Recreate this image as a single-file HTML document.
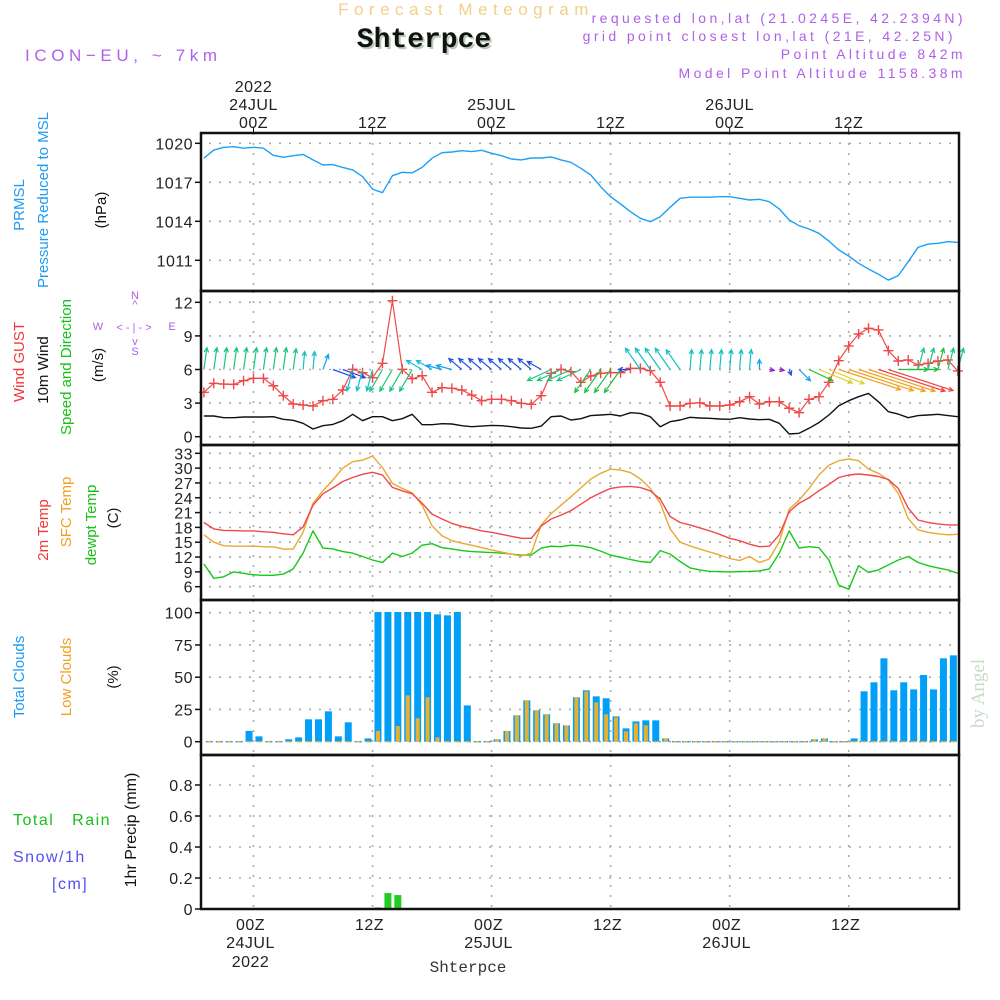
<!DOCTYPE html>
<html><head><meta charset="utf-8">
<style>
html,body{margin:0;padding:0;background:#fff;}
svg{display:block;font-family:"Liberation Sans",sans-serif;}
.t{font-size:16px;fill:#222;letter-spacing:0.5px;}
</style></head>
<body>
<svg id="chart" width="1000" height="1000" viewBox="0 0 1000 1000">
<text x="466" y="15" text-anchor="middle" font-size="17" fill="#f3cf88" letter-spacing="5.5">Forecast Meteogram</text>
<text x="426" y="49" text-anchor="middle" font-family="Liberation Mono,monospace" font-weight="bold" font-size="28" fill="#b8cdb8">Shterpce</text>
<text x="424" y="47" text-anchor="middle" font-family="Liberation Mono,monospace" font-weight="bold" font-size="28" fill="#111">Shterpce</text>
<text x="25" y="61" font-size="17" fill="#b060e8" letter-spacing="4.6">ICON−EU, ~ 7km</text>
<g font-size="14" fill="#b060e8" letter-spacing="3.4" text-anchor="end">
<text x="966" y="23">requested lon,lat (21.0245E, 42.2394N)</text>
<text x="956" y="41">grid point closest lon,lat (21E, 42.25N)</text>
<text x="966" y="59">Point Altitude 842m</text>
<text x="966" y="78">Model Point Altitude 1158.38m</text>
</g>
<text transform="translate(984,728) rotate(-90)" font-family="Liberation Serif,serif" font-size="19" fill="#c8dcc8">by Angel</text>
<g id="grid"></g>
<g id="marks"></g>
<g id="frames"></g>
<g id="labels"></g>
<g font-size="15">
<text transform="translate(24,205) rotate(-90)" text-anchor="middle" fill="#1e9bf0">PRMSL</text>
<text transform="translate(48,200) rotate(-90)" text-anchor="middle" fill="#1e9bf0">Pressure Reduced to MSL</text>
<text transform="translate(106,210) rotate(-90)" text-anchor="middle" fill="#111">(hPa)</text>
</g>
<g font-size="15">
<text transform="translate(24,362) rotate(-90)" text-anchor="middle" fill="#f03838">Wind GUST</text>
<text transform="translate(48,370) rotate(-90)" text-anchor="middle" fill="#111">10m Wind</text>
<text transform="translate(71,367) rotate(-90)" text-anchor="middle" fill="#18c018">Speed and Direction</text>
<text transform="translate(103,365) rotate(-90)" text-anchor="middle" fill="#111">(m/s)</text>
<g font-size="11" fill="#b060e8" text-anchor="middle">
<text x="135" y="299">N</text><text x="135" y="308">^</text><text x="98" y="330">W</text>
<text x="134" y="331">&lt; - | - &gt;</text><text x="172" y="330">E</text>
<text x="135" y="345">v</text><text x="135" y="355">S</text>
</g>
</g>
<g font-size="15">
<text transform="translate(48,530) rotate(-90)" text-anchor="middle" fill="#f03838">2m Temp</text>
<text transform="translate(71,512) rotate(-90)" text-anchor="middle" fill="#f0a020">SFC Temp</text>
<text transform="translate(96,525) rotate(-90)" text-anchor="middle" fill="#18c018">dewpt Temp</text>
<text transform="translate(118,518) rotate(-90)" text-anchor="middle" fill="#111">(C)</text>
</g>
<g font-size="15">
<text transform="translate(24,677) rotate(-90)" text-anchor="middle" fill="#1e9bf0">Total Clouds</text>
<text transform="translate(71,677) rotate(-90)" text-anchor="middle" fill="#f0a020">Low Clouds</text>
<text transform="translate(118,677) rotate(-90)" text-anchor="middle" fill="#111">(%)</text>
</g>
<g font-size="16" letter-spacing="1.5">
<text transform="translate(136,830) rotate(-90)" text-anchor="middle" fill="#111" letter-spacing="0">1hr Precip (mm)</text>
<text x="13" y="825" fill="#18c018" xml:space="preserve">Total   Rain</text>
<text x="13" y="862" fill="#5050f0">Snow/1h</text>
<text x="52" y="889" fill="#5050f0">[cm]</text>
</g>
<text x="468" y="972" text-anchor="middle" font-family="Liberation Mono,monospace" font-size="16" fill="#333">Shterpce</text>
</svg>
<script>
// ---- data (hourly, first value at hour -5 relative to 24JUL 00Z) ----
const startHour = -5;
const pressure = [1018.85,1019.48,1019.69,1019.74,1019.62,1019.69,1019.62,1019.08,1018.92,1019.05,1019.15,1018.72,1018.33,1018.36,1018.15,1017.95,1017.43,1016.48,1016.2,1017.51,1017.77,1017.72,1018.15,1018.85,1019.28,1019.33,1019.43,1019.36,1019.46,1019.23,1019.05,1018.79,1018.72,1018.87,1018.87,1018.95,1018.72,1018.54,1018.08,1017.56,1016.66,1015.89,1015.33,1014.74,1014.23,1013.97,1014.35,1015.08,1015.77,1015.85,1015.85,1015.85,1015.89,1015.89,1015.77,1015.64,1015.69,1015.51,1014.95,1014.1,1013.66,1013.41,1013.08,1012.48,1011.79,1011.33,1010.77,1010.33,1009.92,1009.48,1009.82,1010.89,1012.0,1012.25,1012.31,1012.43,1012.38];
const windGust = [3.96,4.77,4.7,4.67,5.0,5.21,5.21,4.55,3.66,2.92,2.83,2.74,3.21,3.34,4.17,6.02,5.71,5.27,6.55,12.14,6.02,5.18,5.45,3.96,4.38,4.32,4.17,3.72,3.21,3.34,3.34,3.21,2.98,2.89,3.66,5.66,6.02,5.8,4.86,5.42,5.66,5.72,5.72,6.1,6.1,5.89,4.86,2.74,2.74,2.98,3.03,2.74,2.74,2.83,3.12,3.57,2.92,3.12,3.12,2.54,2.15,3.34,3.57,4.86,6.79,8.1,9.17,9.68,9.53,7.68,6.76,6.85,6.4,6.55,6.76,6.85,5.87];
const windSpeed = [1.85,1.85,1.7,1.7,1.76,1.76,1.76,1.79,1.55,1.46,1.2,0.69,0.98,1.1,1.43,2.0,1.43,1.79,1.79,1.43,1.61,2.0,1.07,1.07,1.16,1.13,0.98,0.89,0.95,1.01,0.98,0.89,0.78,0.75,0.95,1.79,1.85,1.49,1.61,1.88,1.94,2.0,1.85,2.14,2.08,1.79,0.89,1.34,1.49,1.73,1.67,1.64,1.58,1.55,1.7,1.58,1.52,1.55,1.2,0.24,0.3,0.75,1.26,1.94,2.77,3.21,3.57,3.87,3.12,2.23,2.02,1.7,1.88,1.94,2.0,1.88,1.79];
const windArrowDir = [8,8,8,8,8,8,8,8,8,8,5,5,20,110,110,195,195,195,210,210,210,210,300,300,285,285,310,310,310,310,310,310,310,310,300,245,245,245,245,215,215,215,215,270,325,325,325,325,325,5,5,5,5,5,5,5,0,100,100,160,135,115,112,112,108,108,108,108,108,108,90,90,15,15,15,15,15];
const windArrowMag = [2.2,2.2,2.2,2.2,2.2,2.2,2.2,2.2,2.2,2.1,1.8,1.8,1.6,2.4,2.4,2.2,2.2,2.2,2.5,2.5,2.5,2.5,1.8,1.8,1.6,1.6,1.7,1.7,1.7,1.7,1.7,1.7,1.7,1.7,1.6,2.6,2.6,2.6,2.6,2.8,2.8,2.8,2.8,1.2,2.6,2.6,2.6,2.6,2.4,2.0,2.0,2.0,2.0,2.0,2.0,2.0,1.0,0.5,0.5,0.6,1.6,2.6,3.6,3.8,6.5,6.8,7.0,7.0,7.0,6.8,3.0,3.0,2.2,2.2,2.2,2.2,2.2];
const windArrowColor = ["#1bc47d","#1bc47d","#1bc47d","#1bc47d","#1bc47d","#1bc47d","#1bc47d","#1bc47d","#1bc47d","#1bc47d","#12c0c4","#12c0c4","#12a0f0","#2050e0","#2050e0","#12c0c4","#12c0c4","#12c0c4","#1bc47d","#1bc47d","#1bc47d","#1bc47d","#12c0d0","#12c0d0","#12a0f0","#12a0f0","#2050e0","#2050e0","#2050e0","#2050e0","#2050e0","#2050e0","#2050e0","#2050e0","#2050e0","#1bc47d","#1bc47d","#1bc47d","#1bc47d","#22c040","#22c040","#22c040","#22c040","#2050e0","#12c0c4","#12c0c4","#12c0c4","#12c0c4","#12c0c4","#12c0c4","#12c0c4","#12c0c4","#12c0c4","#12c0c4","#12c0c4","#12c0c4","#12a0f0","#9020d0","#9020d0","#2050e0","#12a0f0","#22c020","#e0d030","#e0d030","#f0a020","#f0a020","#f0a020","#f0a020","#f04040","#f04040","#22c040","#22c040","#1bc47d","#1bc47d","#22c040","#1bc47d","#1bc47d"];
const temp2m = [19.0,17.7,17.4,17.35,17.3,17.3,17.1,17.0,16.7,16.5,18.1,22.5,24.8,26.0,27.3,28.1,28.75,29.15,28.6,26.1,25.4,24.8,22.9,20.7,19.7,18.8,18.2,17.8,17.3,17.0,16.6,16.2,15.8,15.8,18.3,19.7,20.5,21.4,22.7,24.0,25.0,25.9,26.2,26.3,26.05,25.4,23.7,20.2,19.0,18.5,17.9,17.3,16.6,15.8,15.3,14.6,14.1,14.2,16.5,21.2,22.9,24.0,25.4,26.7,28.1,28.6,28.8,28.6,28.3,27.7,25.9,21.9,19.5,19.0,18.7,18.5,18.5];
const tempSfc = [16.5,15.0,14.3,14.2,14.2,14.2,14.1,14.05,13.6,13.6,17.0,22.9,25.4,27.6,30.0,31.3,31.6,32.45,30.1,26.9,25.9,25.0,22.5,18.3,16.3,15.3,14.8,14.4,13.9,13.4,13.0,12.6,12.2,12.8,18.5,20.8,22.5,24.2,26.0,27.8,28.95,29.8,29.6,29.1,27.8,25.9,22.9,17.7,15.0,14.25,13.6,13.0,12.4,11.7,11.3,12.1,10.9,11.6,15.1,21.7,23.5,25.9,28.6,30.6,31.5,31.85,31.5,29.8,28.95,27.6,24.9,19.8,17.5,17.0,16.7,16.5,16.6];
const dewpoint = [10.6,7.7,8.0,9.0,8.7,8.4,8.3,8.3,8.55,9.6,12.8,17.3,13.8,13.65,13.1,12.8,12.1,11.4,10.9,12.8,12.1,12.8,14.4,14.7,13.9,13.65,13.3,13.1,13.0,12.9,12.8,12.6,12.4,12.4,13.8,14.2,14.1,14.4,14.25,13.9,13.2,12.4,11.95,11.5,11.1,10.9,13.3,12.6,11.1,9.8,9.4,9.1,9.05,9.0,9.05,9.1,9.2,9.6,12.8,17.3,13.8,14.1,13.9,11.4,6.3,5.5,10.25,8.9,9.4,10.4,11.4,12.1,10.9,10.25,9.8,9.4,8.7];
const totalClouds = [0,0,0,0,7.8,3.6,0,0,1.3,2.8,16.8,16.8,23,3.6,14.5,0,2,100,100,100,100,100,100,98.2,97.4,100,27.6,0,0,1.3,7.8,19.9,31.5,23.8,20.7,13.7,12.1,33.9,39.3,34.6,33.1,19.1,9.8,15.2,16,16,2,0,0,0,0,0,0,0,0,0,0,0,0,0,0,1.3,2,0,0,2,38.5,45.5,64.1,39.3,45.5,40,51.2,40,64.1,66.4];
const lowClouds = [0,0,0,0,0,0,0,0,0,0,0,0,0,0,0,0,0,7.8,0,11.6,35.4,17.6,33.9,2.8,0,0,0,0,0,1.3,7.8,19.9,31.5,23.8,20.7,13.7,12.1,33.9,38.5,30,20.7,18.3,7.5,13.7,12.1,0,2,0,0,0,0,0,0,0,0,0,0,0,0,0,0,1.3,2,0,0,0,0,0,0,0,0,0,0,0,0,0];
const precip = [0,0,0,0,0,0,0,0,0,0,0,0,0,0,0,0,0,0.01,0.103,0.09,0,0,0,0,0,0,0,0,0,0,0,0,0,0,0,0,0,0,0,0,0,0,0,0,0,0,0,0,0,0,0,0,0,0,0,0,0,0,0,0,0,0,0,0,0,0,0,0,0,0,0,0,0,0,0,0];
const pressureTicks = [1020,1017,1014,1011];
const windTicks = [0,3,6,9,12];
const tempTicks = [6,9,12,15,18,21,24,27,30,33];
const cloudTicks = [0,25,50,75,100];
const precipTicks = [0,0.2,0.4,0.6,0.8];
const timeTickHours = [0,12,24,36,48,60];
const timeTickLabels = ["00Z","12Z","00Z","12Z","00Z","12Z"];
const dateLabels = ["24JUL","","25JUL","","26JUL",""];

// ---- axis functions ----
const L=201, R=959;
const xs = h => 253.5 + 9.92*h;
const yP = p => 143.3 + (1020-p)*13;
const yW = v => 436.7 - 11.2*v;
const yT = t => 453.3 + (33-t)*4.94;
const yC = c => 741.7 - 1.29*c;
const yR = r => 909 - 155*r;
const panels = [{t:133,b:291,name:'pressure'},{t:291,b:445,name:'wind'},{t:445,b:600,name:'temperature'},{t:600,b:755,name:'clouds'},{t:755,b:909,name:'precip'}];
const NS='http://www.w3.org/2000/svg';
function mk(tag, attrs, parent){const e=document.createElementNS(NS,tag);for(const k in attrs)e.setAttribute(k,attrs[k]);parent.appendChild(e);return e;}
const grid=document.getElementById('grid'), marks=document.getElementById('marks'), frames=document.getElementById('frames'), labels=document.getElementById('labels');

panels.forEach(p=>{
  timeTickHours.forEach(h=>{
    const g=mk('line',{x1:xs(h),x2:xs(h),y1:p.t,y2:p.b,stroke:'#aaa','stroke-width':1.6,'stroke-dasharray':'2 8'},grid);
    
    
  });
});
function hgrid(ticks, yf, fmt, name){
  ticks.forEach(v=>{
    const y=yf(v);
    const g=mk('line',{x1:L+8,x2:R,y1:y,y2:y,stroke:'#aaa','stroke-width':1.6,'stroke-dasharray':'2 8'},grid);
    
    
    const tk=mk('line',{x1:L-6,x2:L,y1:y,y2:y,stroke:'#111','stroke-width':1.5},frames);
    
    
    const t=mk('text',{x:L-8,y:y+6,'text-anchor':'end',class:'t'},labels);
    t.textContent=fmt(v);
    
    
  });
}
hgrid(pressureTicks,yP,v=>v,'pressure');
hgrid(windTicks,yW,v=>v,'wind');
hgrid(tempTicks,yT,v=>v,'temp');
hgrid(cloudTicks,yC,v=>v,'cloud');
hgrid(precipTicks,yR,v=>v===0?'0':v.toFixed(1),'precip');

panels.forEach(p=>{
  const r=mk('rect',{x:L,y:p.t,width:R-L,height:p.b-p.t,fill:'none',stroke:'#111','stroke-width':2.5},frames);
  
  
});

timeTickHours.forEach((h,i)=>{
  const x=xs(h);
  const tk=mk('line',{x1:x,x2:x,y1:128,y2:133,stroke:'#111','stroke-width':1},frames);
  
  
  const t=mk('text',{x:x,y:128,'text-anchor':'middle',class:'t'},labels);
  t.textContent=timeTickLabels[i];
  
  
  const b=mk('text',{x:x-3,y:930,'text-anchor':'middle',class:'t'},labels);
  b.textContent=timeTickLabels[i];
  
  
  if(dateLabels[i]){
    const d=mk('text',{x:x,y:110,'text-anchor':'middle',class:'t'},labels);
    d.textContent=dateLabels[i];
    
    
    const d2=mk('text',{x:x-3,y:948,'text-anchor':'middle',class:'t'},labels);
    d2.textContent=dateLabels[i];
    
    
  }
});
const y1=mk('text',{x:xs(0),y:92,'text-anchor':'middle',class:'t'},labels);
y1.textContent='2022';


const y2=mk('text',{x:xs(0)-3,y:967,'text-anchor':'middle',class:'t'},labels);
y2.textContent='2022';



function line(arr, yf, color, name, w){
  const pts=arr.map((v,i)=>xs(startHour+i).toFixed(1)+','+yf(v).toFixed(1)).join(' ');
  const pl=mk('polyline',{points:pts,fill:'none',stroke:color,'stroke-width':w||1.4,'stroke-linejoin':'round'},marks);
  
  
}
line(pressure,yP,'#1ea0f5','pressure-line');
line(windSpeed,yW,'#111','wind-speed-line');
line(windGust,yW,'#f04848','wind-gust-line',1.2);
windGust.forEach((v,i)=>{
  const x=xs(startHour+i), y=yW(v);
  const p=mk('path',{d:`M${x-5},${y}H${x+5}M${x},${y-5}V${y+5}`,stroke:'#f04848','stroke-width':1.4},marks);
  
  
});
windArrowDir.forEach((d,i)=>{
  const x=xs(startHour+i), y=yW(6);
  const len=windArrowMag[i]*10, a=d*Math.PI/180;
  const ex=x+len*Math.sin(a), ey=y-len*Math.cos(a);
  const hl=5;
  const a1=a+Math.PI-0.45, a2=a+Math.PI+0.45;
  const p=mk('path',{d:`M${x},${y}L${ex},${ey}M${ex+hl*Math.sin(a1)},${ey-hl*Math.cos(a1)}L${ex},${ey}L${ex+hl*Math.sin(a2)},${ey-hl*Math.cos(a2)}`,stroke:windArrowColor[i],'stroke-width':1.2,fill:'none'},marks);
  
  
});
line(dewpoint,yT,'#18c818','dewpoint-line');
line(tempSfc,yT,'#eaa830','sfc-temp-line');
line(temp2m,yT,'#f04848','temp-2m-line');
totalClouds.forEach((v,i)=>{
  const cx=xs(startHour+i+0.55);
  const r=mk('rect',{x:cx-3.5,y:yC(v)-0.7,width:7,height:Math.max(0.7,yC(0)-yC(v))+0.7,fill:'#019ff8'},marks);
  
  
  const o=mk('rect',{x:cx-2,y:yC(lowClouds[i])-0.7,width:4,height:Math.max(0.7,yC(0)-yC(lowClouds[i]))+0.7,fill:'#e8b030'},marks);
  
  
});
precip.forEach((v,i)=>{
  if(v<=0) return;
  const cx=xs(startHour+i+0.55);
  const r=mk('rect',{x:cx-3.5,y:yR(v),width:7,height:yR(0)-yR(v),fill:'#22cc22'},marks);
  
  
});
const zl=mk('line',{x1:L,x2:R,y1:yR(0),y2:yR(0),stroke:'#111','stroke-width':2,'stroke-dasharray':'6 2'},frames);


</script>
</body></html>
